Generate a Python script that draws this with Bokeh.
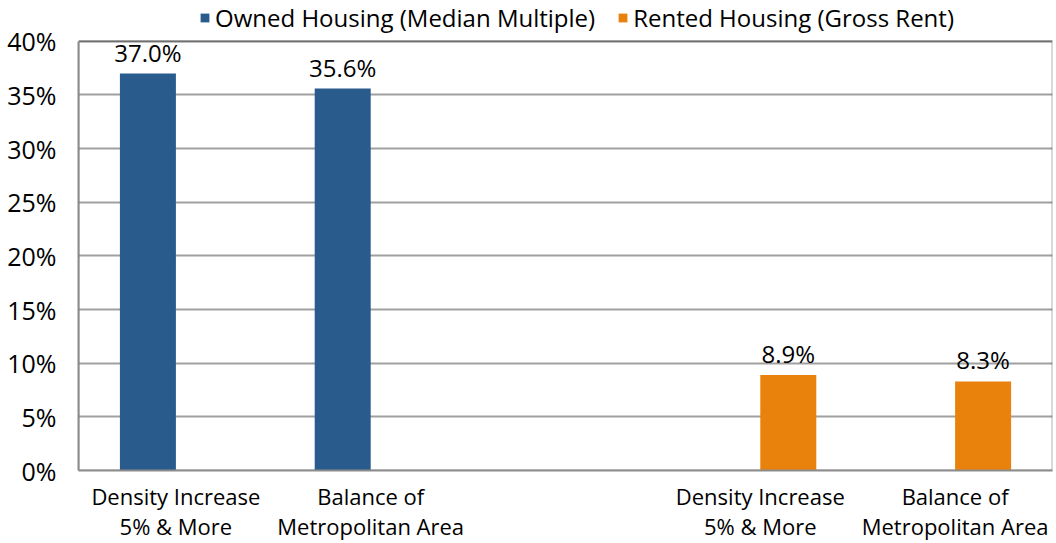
from bokeh.plotting import figure
from bokeh.models import (ColumnDataSource, LabelSet, Legend, LegendItem, BoxAnnotation,
                          PrintfTickFormatter, FixedTicker, Range1d)
from bokeh.core.properties import value
from bokeh.transform import dodge
from bokeh.embed import file_html
from bokeh.resources import INLINE

# ---- data ----
categories = ["Density Increase\n5% & More", "Balance of\nMetropolitan Area", "",
              "Density Increase\n5% & More", "Balance of\nMetropolitan Area"]
owned_idx = [0, 1]
owned_vals = [37.0, 35.6]
rented_idx = [3, 4]
rented_vals = [8.9, 8.3]
series_names = ["Owned Housing (Median Multiple)", "Rented Housing (Gross Rent)"]
y_ticks = [0, 5, 10, 15, 20, 25, 30, 35, 40]

BLUE = "#2A5B8D"
ORANGE = "#E9820C"
FONT = "Open Sans"

owned_src = ColumnDataSource(dict(x=owned_idx, y=owned_vals,
                                  lab=[f"{v:.1f}%" for v in owned_vals]))
rented_src = ColumnDataSource(dict(x=rented_idx, y=rented_vals,
                                   lab=[f"{v:.1f}%" for v in rented_vals]))

W, H = 1056, 543
BL, BR, BB = 78, 4, 71
PLOT_TOP = 41                      # pixel row where the 40% line sits
frame_h = H - BB
y_max = y_ticks[-1] * frame_h / (frame_h - PLOT_TOP)   # room above for the legend

p = figure(width=W, height=H, output_backend="svg", toolbar_location=None,
           x_range=Range1d(-0.5, len(categories) - 0.5), y_range=Range1d(0, y_max),
           min_border_left=BL, min_border_right=BR, min_border_top=0,
           min_border_bottom=BB)
p.outline_line_color = None
p.background_fill_color = "#ffffff"
p.border_fill_color = "#ffffff"

p.xgrid.grid_line_color = None
p.ygrid.grid_line_color = "#a0a0a0"
p.ygrid.grid_line_width = 2

# plot-area border (black top/right; left/bottom covered by gray axis lines)
p.add_layout(BoxAnnotation(left=p.x_range.start, right=p.x_range.end, bottom=0,
                           top=y_ticks[-1], fill_alpha=0, line_color="#000000",
                           line_width=2, level="underlay"))

off = 0.1437
bw = 0.2875
r1 = p.vbar(x=dodge("x", -off, range=p.x_range), top="y", width=bw, source=owned_src,
            fill_color=BLUE, line_color=None)
r2 = p.vbar(x=dodge("x", off, range=p.x_range), top="y", width=bw, source=rented_src,
            fill_color=ORANGE, line_color=None)

for src, d in ((owned_src, -off), (rented_src, off)):
    p.add_layout(LabelSet(x=dodge("x", d, range=p.x_range), y="y", text="lab", source=src,
                          text_align="center", text_baseline="bottom", y_offset=5,
                          text_font=value(FONT), text_font_size="24px",
                          text_color="#000000"))

# axes
p.xaxis.ticker = FixedTicker(ticks=[i for i, c in enumerate(categories) if c])
p.xaxis.major_label_overrides = {i: c for i, c in enumerate(categories) if c}
p.xaxis.major_label_text_font = FONT
p.xaxis.major_label_text_font_size = "22px"
p.xaxis.major_label_text_line_height = 1.0
p.xaxis.major_label_text_color = "#000000"
p.xaxis.major_label_standoff = 4
p.xaxis.major_tick_line_color = None
p.xaxis.minor_tick_line_color = None
p.xaxis.axis_line_color = "#8c8c8c"
p.xaxis.axis_line_width = 2

p.yaxis.ticker = FixedTicker(ticks=y_ticks)
p.yaxis.bounds = (y_ticks[0], y_ticks[-1])
p.yaxis.formatter = PrintfTickFormatter(format="%d%%")
p.yaxis.major_label_text_font = FONT
p.yaxis.major_label_text_font_size = "25px"
p.yaxis.major_label_text_color = "#000000"
p.yaxis.major_label_standoff = 16
p.yaxis.major_tick_line_color = None
p.yaxis.minor_tick_line_color = None
p.yaxis.axis_line_color = "#8c8c8c"
p.yaxis.axis_line_width = 2

legend = Legend(items=[LegendItem(label=series_names[0], renderers=[r1]),
                       LegendItem(label=series_names[1], renderers=[r2])],
                orientation="horizontal", location=(121, frame_h - 36),
                label_text_font=FONT, label_text_font_size="24px",
                label_text_color="#000000", glyph_width=11, glyph_height=11,
                label_standoff=5, spacing=22, padding=0, margin=0,
                border_line_color=None, background_fill_alpha=0)
p.add_layout(legend)

open("out.html", "w").write(file_html(p, INLINE))
